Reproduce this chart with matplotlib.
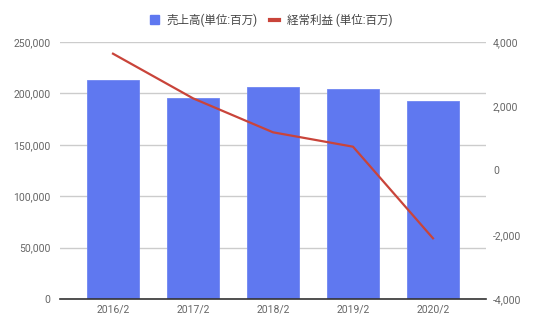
import matplotlib
matplotlib.use("Agg")
import matplotlib.pyplot as plt
from matplotlib.patches import Patch
from matplotlib.lines import Line2D
from matplotlib.ticker import FuncFormatter

plt.rcParams['font.family'] = ['Roboto', 'Noto Sans CJK JP', 'DejaVu Sans']

categories = ["2016/2", "2017/2", "2018/2", "2019/2", "2020/2"]
sales = [213000, 195800, 206200, 204600, 192300]
ordinary_profit = [3636, 2247, 1189, 741, -2111]
left_ticks = [0, 50000, 100000, 150000, 200000, 250000]
right_ticks = [-4000, -2000, 0, 2000, 4000]
sales_label = "売上高(単位:百万)"
profit_label = "経常利益 (単位:百万)"

bar_color = "#5f78f0"
line_color = "#c9443a"
tick_color = "#666666"

fig = plt.figure(figsize=(5.35, 3.30), dpi=100)
ax = fig.add_axes([60/535, 31/330, 426/535, 257/330])
x = list(range(len(categories)))
ax.bar(x, sales, width=0.65, color=bar_color, edgecolor="#6f86f2", linewidth=0.6, zorder=2)
ax.set_xlim(-0.5 - 13/80, len(categories) - 0.5 + 13/80)
ax.set_ylim(0, 250000)
ax.set_yticks(left_ticks)
ax.yaxis.set_major_formatter(FuncFormatter(lambda v, p: f"{int(v):,}"))
ax.set_xticks(x)
ax.set_xticklabels(categories)
ax.grid(axis='y', color="#cccccc", linewidth=1, zorder=0)
for s in ['top', 'right', 'left']:
    ax.spines[s].set_visible(False)
ax.spines['bottom'].set_color("#333333")
ax.spines['bottom'].set_linewidth(1.2)
ax.spines['bottom'].set_zorder(5)
ax.tick_params(axis='both', length=0, labelsize=7.5, colors=tick_color)
ax.tick_params(axis='y', pad=7)
ax.tick_params(axis='x', pad=4)

ax2 = ax.twinx()
ax2.plot(x, ordinary_profit, color=line_color, linewidth=1.6, zorder=4)
ax2.set_ylim(-4000, 4000)
ax2.set_yticks(right_ticks)
ax2.yaxis.set_major_formatter(FuncFormatter(lambda v, p: f"{int(v):,}"))
for s in ax2.spines.values():
    s.set_visible(False)
ax2.tick_params(axis='y', length=0, labelsize=7.5, colors=tick_color, pad=5)

handles = [Patch(facecolor=bar_color, edgecolor=bar_color),
           Line2D([0], [0], color=line_color, linewidth=3)]
fig.legend(handles, [sales_label, profit_label], loc='center', bbox_to_anchor=(271/535, 1 - 20/330),
           ncol=2, frameon=False, fontsize=8.3, handlelength=0.8, handleheight=0.8,
           handletextpad=0.7, columnspacing=1.0, labelcolor="#444444")

fig.savefig("out.png", dpi=100)
